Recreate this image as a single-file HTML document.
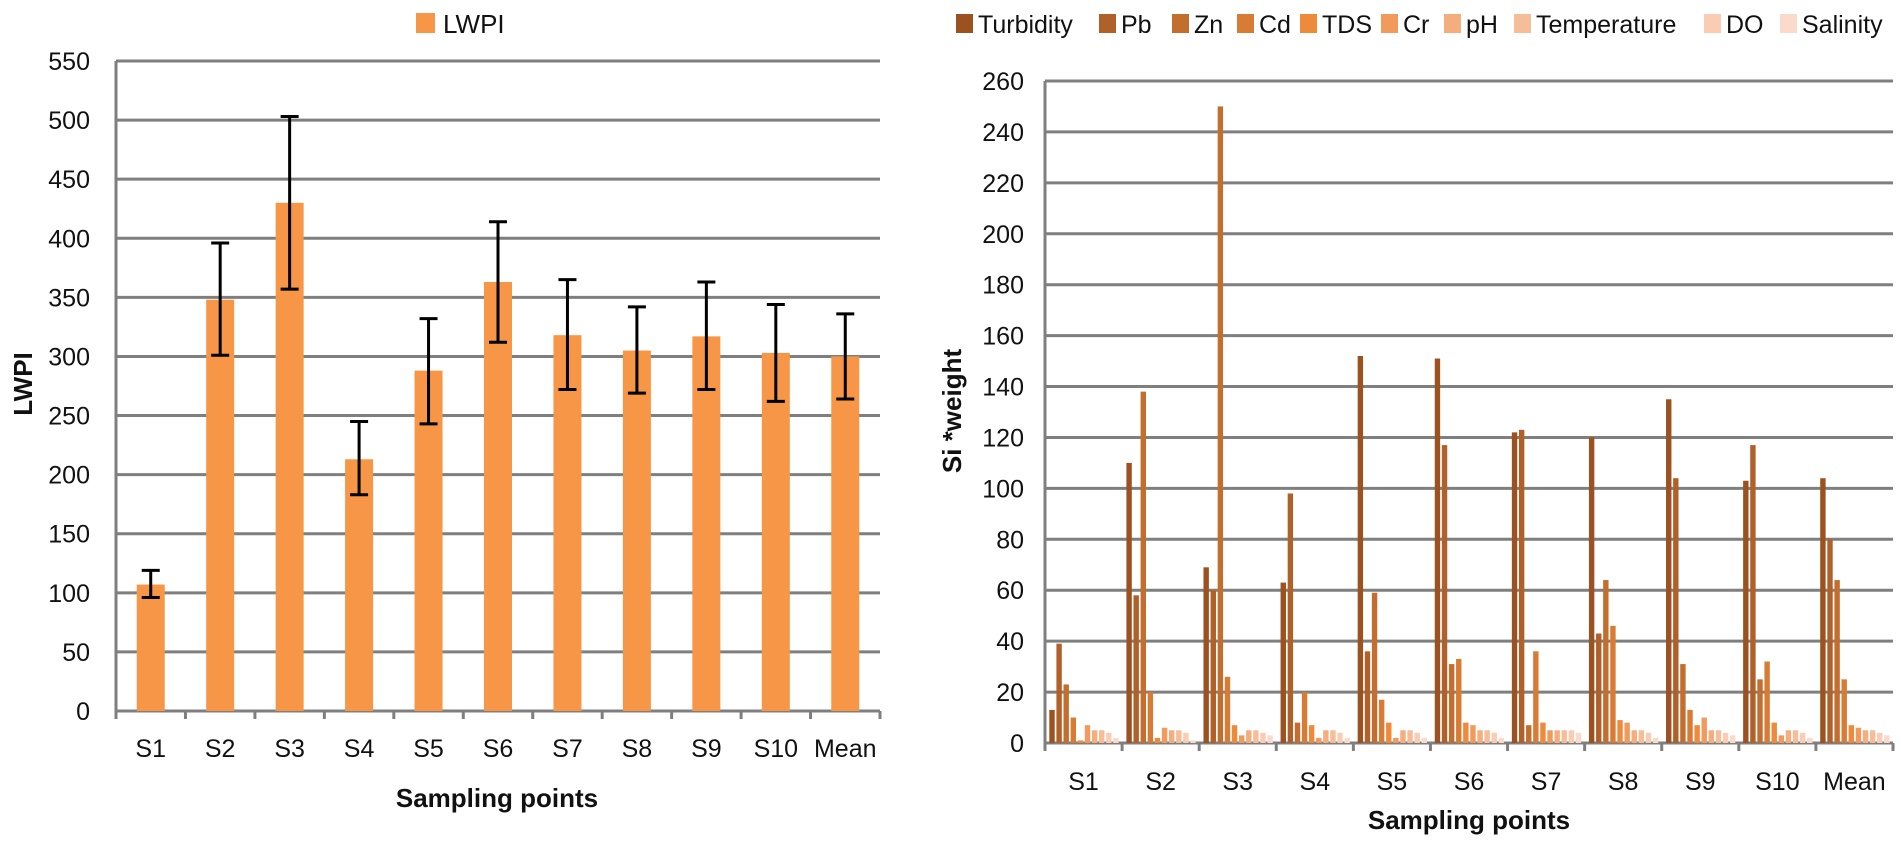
<!DOCTYPE html>
<html><head><meta charset="utf-8"><style>
body{margin:0;background:#fff;}
svg{display:block;font-family:"Liberation Sans",sans-serif;}
</style></head><body>
<svg id="c" width="1901" height="843"></svg>
<script>
const leftCats=["S1","S2","S3","S4","S5","S6","S7","S8","S9","S10","Mean"];
const lwpi=[107,348,430,213,288,363,318,305,317,303,300];
const errLow=[96,301,357,183,243,312,272,269,272,262,264];
const errHigh=[119,396,503,245,332,414,365,342,363,344,336];
const leftTicks=[0,50,100,150,200,250,300,350,400,450,500,550];
const seriesNames=["Turbidity","Pb","Zn","Cd","TDS","Cr","pH","Temperature","DO","Salinity"];
const seriesColors=["#9c5220","#b0612a","#c36e2e","#d87b34","#ee8a3a","#f29a5c","#f5ad7e","#f7bd99","#f9ccb3","#fbdacb"];
const turbidity=[13,110,69,63,152,151,122,120,135,103,104];
const pb=[39,58,60,98,36,117,123,43,104,117,80];
const zn=[23,138,250,8,59,31,7,64,31,25,64];
const cd=[10,20,26,20,17,33,36,46,13,32,25];
const tds=[1,2,7,7,8,8,8,9,7,8,7];
const cr=[7,6,3,2,2,7,5,8,10,3,6];
const ph=[5,5,5,5,5,5,5,5,5,5,5];
const temperature=[5,5,5,5,5,5,5,5,5,5,5];
const dox=[4,4,4,4,4,4,5,4,4,4,4];
const salinity=[2,1,3,2,2,2,4,2,3,2,3];
const rightTicks=[0,20,40,60,80,100,120,140,160,180,200,220,240,260];

const NS="http://www.w3.org/2000/svg";
const svg=document.getElementById('c');
function mk(t,a,p){const e=document.createElementNS(NS,t);for(const k in a)e.setAttribute(k,a[k]);(p||svg).appendChild(e);return e;}
function txt(s,a){const e=mk('text',a);e.textContent=s;return e;}

// LEFT CHART
const L={x0:116,x1:880,y0:711,y1:61,max:550};
const ly=v=>L.y0-(v/L.max)*(L.y0-L.y1);
const lstep=(L.x1-L.x0)/leftCats.length;
const lx=i=>L.x0+lstep*(i+0.5);
leftTicks.forEach(t=>{
  const g=mk('line',{x1:L.x0,x2:L.x1,y1:ly(t),y2:ly(t),stroke:'#7f7f7f','stroke-width':3});
  
  const l=txt(String(t),{x:90,y:ly(t)+9,'text-anchor':'end','font-size':25,fill:'#111'});
  
});
mk('line',{x1:L.x0,x2:L.x0,y1:L.y1,y2:L.y0+8,stroke:'#7f7f7f','stroke-width':3});
for(let i=0;i<=leftCats.length;i++){mk('line',{x1:L.x0+lstep*i,x2:L.x0+lstep*i,y1:L.y0,y2:L.y0+8,stroke:'#7f7f7f','stroke-width':3});}
lwpi.forEach((v,i)=>{
  const b=mk('rect',{x:lx(i)-14,y:ly(v),width:28,height:L.y0-ly(v),fill:'#f79646'});
  
  const e=mk('path',{d:`M${lx(i)} ${ly(errHigh[i])}V${ly(errLow[i])}M${lx(i)-9} ${ly(errHigh[i])}H${lx(i)+9}M${lx(i)-9} ${ly(errLow[i])}H${lx(i)+9}`,stroke:'#000','stroke-width':3,fill:'none'});
  
  const l=txt(leftCats[i],{x:lx(i),y:757,'text-anchor':'middle','font-size':25,fill:'#111'});
  
});
let t=txt('Sampling points',{x:497,y:807,'text-anchor':'middle','font-size':26,'font-weight':'bold',fill:'#111'});

t=txt('LWPI',{x:32,y:384,'text-anchor':'middle','font-size':26,'font-weight':'bold',fill:'#111',transform:'rotate(-90 32 384)'});

let r=mk('rect',{x:416,y:13,width:19,height:20,fill:'#f79646'});

t=txt('LWPI',{x:443,y:33,'font-size':26,fill:'#111'});


// RIGHT CHART
const R={x0:1045,x1:1893,y0:743,y1:81,max:260};
const ry=v=>R.y0-(v/R.max)*(R.y0-R.y1);
const rstep=(R.x1-R.x0)/leftCats.length;
rightTicks.forEach(v=>{
  const g=mk('line',{x1:R.x0,x2:R.x1,y1:ry(v),y2:ry(v),stroke:'#7f7f7f','stroke-width':3});
  
  const l=txt(String(v),{x:1024,y:ry(v)+9,'text-anchor':'end','font-size':25,fill:'#111'});
  
});
mk('line',{x1:R.x0,x2:R.x0,y1:R.y1,y2:R.y0+8,stroke:'#7f7f7f','stroke-width':3});
for(let i=0;i<=leftCats.length;i++){mk('line',{x1:R.x0+rstep*i,x2:R.x0+rstep*i,y1:R.y0,y2:R.y0+8,stroke:'#7f7f7f','stroke-width':3});}
const allSeries=[turbidity,pb,zn,cd,tds,cr,ph,temperature,dox,salinity];
allSeries.forEach((arr,s)=>{
  arr.forEach((v,i)=>{
    const cx=R.x0+rstep*i+7+s*7.1;
    const b=mk('rect',{x:cx-2.7,y:ry(v),width:5.4,height:R.y0-ry(v),fill:seriesColors[s]});
    
    
  });
});
leftCats.forEach((c,i)=>{
  const l=txt(c,{x:R.x0+rstep*(i+0.5),y:790,'text-anchor':'middle','font-size':25,fill:'#111'});
  
});
t=txt('Sampling points',{x:1469,y:829,'text-anchor':'middle','font-size':26,'font-weight':'bold',fill:'#111'});

t=txt('Si *weight',{x:961,y:411,'text-anchor':'middle','font-size':26,'font-weight':'bold',fill:'#111',transform:'rotate(-90 961 411)'});

const legX=[956,1099,1172,1237,1300,1381,1444,1514,1704,1780];
seriesNames.forEach((n,s)=>{
  const sw=mk('rect',{x:legX[s],y:14,width:17,height:19,fill:seriesColors[s]});
  
  const l=txt(n,{x:legX[s]+22,y:33,'font-size':25,fill:'#111'});
  
});
</script>
</body></html>
